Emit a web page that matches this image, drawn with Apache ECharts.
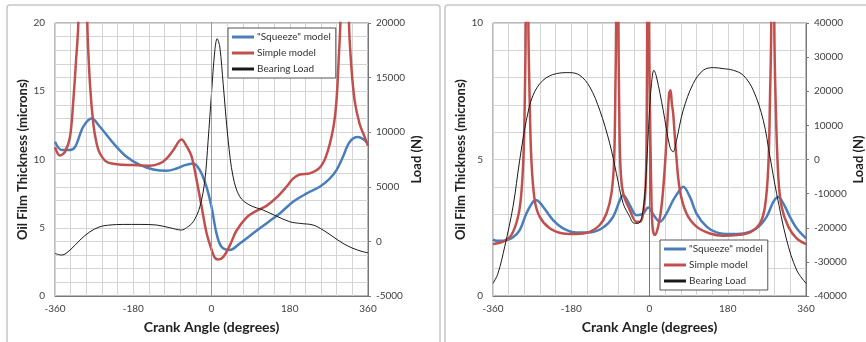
<!DOCTYPE html>
<html><head><meta charset="utf-8">
<script src="https://cdn.jsdelivr.net/npm/echarts@6/dist/echarts.min.js"></script>
<style>html,body{margin:0;padding:0;background:#fff}#c{width:866px;height:342px}</style>
</head><body><div id="c"></div>
<script>
// ---------- Shared labels ----------
var xTickLabels = [-360, -180, 0, 180, 360];
var seriesNames = ['"Squeeze" model', 'Simple model', 'Bearing Load'];

// ---------- Left chart data ----------
var leftSqueezeAngle = [-360,-344.7,-325.5,-314,-294.9,-275.7,-256.6,-226,-195.3,-164.7,-134,-103.4,-80.4,-61.3,-42.1,-26.8,-11.5,0,11.5,23,42.1,65.1,95.7,126.4,157,187.6,218.3,249,272,287.2,302.5,317.8,337,348.5,360];
var leftSqueezeThick = [11.3,10.7,10.7,10.9,12.4,13.0,12.4,11.2,10.2,9.6,9.27,9.17,9.34,9.59,9.71,9.22,8.0,6.54,4.59,3.61,3.37,3.85,4.59,5.32,6.05,6.9,7.5,8.0,8.6,9.2,10.2,11.29,11.65,11.5,11.17];

var leftSimpleAngle = [-360,-348.5,-337,-325.5,-317.9,-311.7,-306.4,-296,-285.7,-279.6,-271.9,-264.3,-256.6,-241.3,-218.3,-180,-141.7,-118.7,-103.4,-88,-69,-57.5,-46,-34.5,-23,-11.5,0,7.7,15.3,26.8,42.1,57.4,80.4,103.4,126.4,149.3,172.3,187.6,203,226,249,264.2,279.5,287.2,293.3,296.4,306,316.3,321.7,329.4,340.8,352.3,360];
var leftSimpleThick = [10.9,10.3,10.56,11.66,14.3,17.2,20,40,20,15.56,12.63,11.17,10.44,9.83,9.66,9.59,9.54,9.71,10.07,10.68,11.46,10.98,10.24,8.54,6.59,4.63,3.41,2.8,2.68,2.85,3.7,4.78,5.75,6.24,6.6,7.2,8.0,8.6,8.9,8.98,9.4,10.3,12.2,14.2,17.8,20,40,20,16.8,14.3,12.6,11.66,11.0];

var leftLoadAngle = [-360,-344.7,-325.5,-302.6,-279.6,-256.6,-233.6,-203,-164.7,-126.4,-95.8,-69,-57.5,-42,-26.8,-15.3,-7.7,0,7.7,13,19.1,26.8,38.3,49.8,65.1,88,118.7,149.3,180,203,233.6,256.6,279.5,302.5,325.5,348.5,360];
var leftLoadN = [-1100,-1250,-800,120,885,1340,1500,1555,1555,1500,1250,1040,1250,1800,3170,5610,9270,13540,17500,18570,17800,14450,9270,5900,4090,3320,2870,2320,1800,1650,1500,1040,430,-180,-640,-945,-1040];

// ---------- Right chart data ----------
var rightSqueezeAngle = [-360,-352.3,-337,-314,-298.6,-283.2,-267.9,-260.2,-244.9,-221.8,-198.8,-168.1,-137.4,-106.7,-83.7,-68.3,-60.6,-45.3,-29.9,-14.6,-3,0.8,12.3,23.8,39.1,54.5,69.8,77.5,92.9,108.2,131.3,154.3,185,215.7,246.4,269.4,284.8,296.3,307.8,323.1,338.5,360];
var rightSqueezeThick = [2.07,2.02,2.02,2.15,2.41,3.02,3.45,3.51,3.27,2.78,2.48,2.33,2.33,2.51,2.9,3.51,3.7,3.33,2.96,3.02,3.24,3.2,2.9,2.72,3.02,3.51,3.88,4.0,3.63,3.02,2.54,2.33,2.27,2.29,2.48,2.9,3.45,3.63,3.39,2.9,2.48,2.11];

var rightSimpleAngle = [-360,-337,-317.8,-302.4,-294.8,-289.4,-286.3,-284.8,-282,-278.6,-275.6,-271.7,-264.1,-252.5,-229.5,-198.8,-168.1,-137.4,-114.4,-99,-87.5,-81.4,-78.3,-76.8,-74.5,-71.4,-69.9,-66.8,-60.6,-45.3,-29.9,-22.3,-14.6,-8.4,-6.1,-5.4,-3.5,-0.8,0.8,3.8,6.9,12.3,19.9,27.6,35.3,40.6,45.2,48.3,51.4,54.5,60.6,69.8,85.1,108.2,138.9,169.6,200.3,231,254,265.6,273.3,277.1,280.1,283.5,287.1,290.1,296.3,303.9,319.3,338.5,360];
var rightSimpleThick = [1.9,1.99,2.23,2.9,3.76,5.34,7.78,10,30,10,7.17,4.98,3.51,2.9,2.48,2.29,2.27,2.35,2.6,3.02,3.76,4.98,7.78,10,30,10,7.17,4.73,3.76,3.15,2.72,2.72,3.02,4.24,7.17,10,30,10,7.17,4.12,2.54,2.23,2.54,3.27,4.73,6.2,7.41,7.54,7.05,6.68,5.34,3.88,3.02,2.54,2.29,2.21,2.23,2.33,2.66,3.27,4.73,7.17,10,30,10,7.17,4.37,3.27,2.54,2.11,1.9];

var rightLoadAngle = [-360,-348.5,-333.1,-314,-298.6,-283.2,-267.9,-244.9,-214.2,-183.5,-160.4,-137.4,-114.4,-91.4,-76.1,-60.6,-45.3,-37.6,-26.1,-14.6,-6.9,-0.8,4.6,10,16.1,31.5,46.8,54.5,62.2,77.5,100.5,123.6,146.6,169.6,192.7,215.7,238.7,261.7,277.1,292.4,315.5,338.5,360];
var rightLoadN = [-36300,-33370,-25560,-13850,-190,11500,18830,23220,25170,25460,24680,21270,14440,4680,-4100,-12880,-16780,-18540,-18730,-14830,-2150,12490,22240,26150,24200,14440,3700,2240,5660,14440,22240,26150,26930,26630,26150,24680,20290,11510,780,-9950,-23610,-32390,-36300];

function zip(a, b) { return a.map(function (v, i) { return [v, b[i]]; }); }

var FONT = 'Lato, "Open Sans", sans-serif';
var LABEL_COLOR = '#404040';
var BLUE = '#4A7EBB', RED = '#C0504D', BLACK = '#1a1a1a';
var seriesColors = [BLUE, RED, BLACK];

function xAxisCfg(gi) {
  return {
    type: 'value', gridIndex: gi, min: -360, max: 360, interval: 36,
    name: 'Crank Angle (degrees)', nameLocation: 'middle', nameGap: 24,
    nameTextStyle: { fontFamily: FONT, fontWeight: 'bold', fontSize: 14, color: '#222' },
    axisLine: { show: true, onZero: false, lineStyle: { color: '#777', width: 1 } },
    axisTick: { show: false },
    axisLabel: { fontFamily: FONT, fontSize: 10, color: LABEL_COLOR, margin: 8,
      formatter: function (v) { return xTickLabels.indexOf(v) >= 0 ? String(v) : ''; } },
    splitLine: { show: true, lineStyle: { color: '#d4d4d4', width: 1 } }
  };
}
function yLeftCfg(gi, max) {
  return {
    type: 'value', gridIndex: gi, min: 0, max: max, interval: 1, position: 'left',
    name: 'Oil Film Thickness (microns)', nameLocation: 'middle', nameGap: 26, nameRotate: 90,
    nameTextStyle: { fontFamily: FONT, fontWeight: 'bold', fontSize: 13, color: '#222' },
    axisLine: { show: true, lineStyle: { color: '#777', width: 1 } },
    axisTick: { show: false },
    axisLabel: { fontFamily: FONT, fontSize: 10, color: LABEL_COLOR, margin: 10,
      formatter: function (v) { return v % 5 === 0 ? String(v) : ''; } },
    splitLine: { show: true, lineStyle: { color: '#d4d4d4', width: 1 } }
  };
}
function yRightCfg(gi, min, max, interval, gap) {
  return {
    type: 'value', gridIndex: gi, min: min, max: max, interval: interval, position: 'right',
    name: 'Load (N)', nameLocation: 'middle', nameGap: gap, nameRotate: 90,
    nameTextStyle: { fontFamily: FONT, fontWeight: 'bold', fontSize: 13, color: '#222' },
    axisLine: { show: true, lineStyle: { color: '#777', width: 1 } },
    axisTick: { show: true, inside: false, length: 3, lineStyle: { color: '#777' } },
    axisLabel: { fontFamily: FONT, fontSize: 10, color: LABEL_COLOR, margin: 8,
      formatter: function (v) { return String(v); } },
    splitLine: { show: false }
  };
}
function line(name, xi, yi, data, color, width) {
  return {
    name: name, type: 'line', xAxisIndex: xi, yAxisIndex: yi, data: data,
    symbol: 'none', smooth: 0.35, clip: true, silent: true,
    lineStyle: { color: color, width: width }, itemStyle: { color: color }
  };
}
function legendCfg(left, top) {
  return {
    data: seriesNames.map(function (n, i) {
      return { name: n, icon: 'rect', itemStyle: { color: seriesColors[i] } };
    }),
    orient: 'vertical', left: left, top: top,
    itemWidth: 22, itemHeight: 3, itemGap: 6, padding: [4, 5, 4, 4],
    backgroundColor: '#fff', borderColor: '#555', borderWidth: 1,
    textStyle: { fontFamily: FONT, fontSize: 10, color: '#333', padding: [0, 0, 0, -2] }
  };
}

var chart = echarts.init(document.getElementById('c'), null, { renderer: 'canvas' });
var leftLoadSeries = line(seriesNames[2], 0, 1, zip(leftLoadAngle, leftLoadN), BLACK, 1);
leftLoadSeries.markLine = { silent: true, symbol: 'none', label: { show: false },
  lineStyle: { color: '#9a9a9a', width: 1, type: 'solid' }, data: [{ xAxis: 0 }] };

chart.setOption({
  animation: false,
  graphic: [
    { type: 'rect', shape: { x: 7, y: 5, width: 433, height: 350, r: 3 }, style: { fill: 'none', stroke: '#c6c6c6', lineWidth: 1.5 }, z: -10 },
    { type: 'rect', shape: { x: 445, y: 5, width: 440, height: 350, r: 3 }, style: { fill: 'none', stroke: '#c6c6c6', lineWidth: 1.5 }, z: -10 }
  ],
  grid: [
    { left: 55, right: 498, top: 23, bottom: 46, show: true, borderColor: '#777', borderWidth: 1, backgroundColor: 'transparent' },
    { left: 493, right: 60, top: 23, bottom: 46, show: true, borderColor: '#777', borderWidth: 1, backgroundColor: 'transparent' }
  ],
  legend: [legendCfg(228, 28), legendCfg(660, 240)],
  xAxis: [xAxisCfg(0), xAxisCfg(1)],
  yAxis: [
    yLeftCfg(0, 20),
    yRightCfg(0, -5000, 20000, 5000, 42),
    yLeftCfg(1, 10),
    yRightCfg(1, -40000, 40000, 10000, 46)
  ],
  series: [
    line(seriesNames[0], 0, 0, zip(leftSqueezeAngle, leftSqueezeThick), BLUE, 2.5),
    line(seriesNames[1], 0, 0, zip(leftSimpleAngle, leftSimpleThick), RED, 2.5),
    leftLoadSeries,
    line(seriesNames[0], 1, 2, zip(rightSqueezeAngle, rightSqueezeThick), BLUE, 2.5),
    line(seriesNames[1], 1, 2, zip(rightSimpleAngle, rightSimpleThick), RED, 2.5),
    line(seriesNames[2], 1, 3, zip(rightLoadAngle, rightLoadN), BLACK, 1)
  ]
});
</script>
</body></html>
